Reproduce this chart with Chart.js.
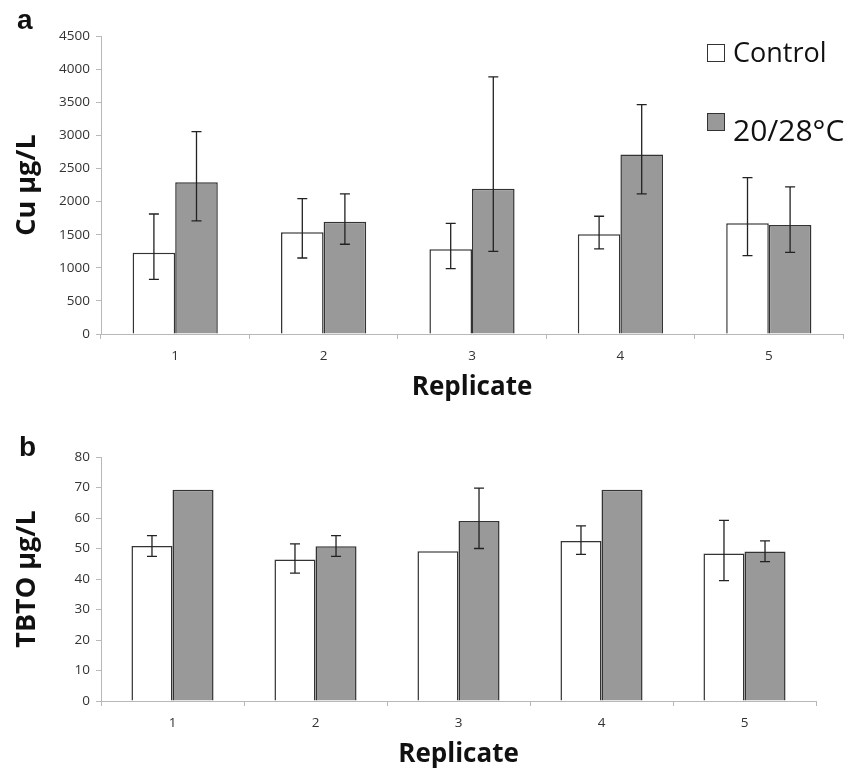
<!DOCTYPE html>
<html>
<head>
<meta charset="utf-8">
<script src="https://cdn.jsdelivr.net/npm/chart.js@4"></script>
<style>
  body { margin: 0; background: #fff; width: 858px; height: 771px; position: relative; overflow: hidden; }
  .pane { position: absolute; left: 0; }
  .letter { position: absolute; font-family: "Liberation Sans", Arial, sans-serif; font-weight: bold; font-size: 28px; line-height: 28px; color: #111; }
  .key { position: absolute; left: 707px; width: 16px; height: 16px; border: 1.5px solid #333; }
  .key-text { position: absolute; left: 733px; font-family: "Open Sans", sans-serif; color: #111; white-space: nowrap; }
</style>
</head>
<body>
<div class="pane" style="top:0"><canvas id="cu-chart" width="858" height="410"></canvas></div>
<div class="pane" style="top:410px"><canvas id="tbto-chart" width="858" height="361"></canvas></div>

<div class="letter" style="left:17px;top:6px">a</div>
<div class="letter" style="left:19px;top:433px">b</div>

<div class="key" style="top:44px;background:#fff"></div>
<div class="key-text" style="top:38px;font-size:27px;line-height:27px">Control</div>
<div class="key" style="top:113px;background:#999"></div>
<div class="key-text" style="top:115px;font-size:30px;line-height:30px">20/28°C</div>

<script>
const replicates = ['1', '2', '3', '4', '5'];

// panel a: Cu (µg/L)
const cuControl     = [1228, 1536, 1279, 1506, 1672];
const cuControlLow  = [826, 1148, 986, 1284, 1183];
const cuControlHigh = [1812, 2044, 1672, 1778, 2361];
const cuHeat        = [2291, 1696, 2195, 2709, 1647];
const cuHeatLow     = [1707, 1355, 1249, 2115, 1234];
const cuHeatHigh    = [3056, 2115, 3882, 3464, 2221];

// panel b: TBTO (µg/L), null = no error bar drawn
const tbtoControl     = [50.8, 46.4, 49.1, 52.5, 48.4];
const tbtoControlLow  = [47.4, 41.9, null, 48.1, 39.5];
const tbtoControlHigh = [54.2, 51.5, null, 57.4, 59.2];
const tbtoHeat        = [69.3, 50.7, 59.0, 69.3, 49.0];
const tbtoHeatLow     = [null, 47.4, 50.0, null, 45.7];
const tbtoHeatHigh    = [null, 54.2, 69.8, null, 52.5];

const AXIS = '#b8b8b8';
const TICK_TXT = '#333';

const errorBars = {
  id: 'errorBars',
  afterDatasetsDraw(chart) {
    const { ctx } = chart;
    const y = chart.scales.y;
    chart.data.datasets.forEach((ds, i) => {
      const meta = chart.getDatasetMeta(i);
      meta.data.forEach((bar, j) => {
        const lo = ds.errLow[j], hi = ds.errHigh[j];
        if (lo == null || hi == null) return;
        const yLo = y.getPixelForValue(lo);
        const yHi = y.getPixelForValue(hi);
        const x = bar.x;
        ctx.save();
        ctx.strokeStyle = '#222';
        ctx.lineWidth = 1.3;
        ctx.beginPath();
        ctx.moveTo(x, yLo); ctx.lineTo(x, yHi);
        ctx.moveTo(x - 5, yLo); ctx.lineTo(x + 5, yLo);
        ctx.moveTo(x - 5, yHi); ctx.lineTo(x + 5, yHi);
        ctx.stroke();
        ctx.restore();
      });
    });
  }
};

function makeChart(id, opts) {
  return new Chart(document.getElementById(id), {
    type: 'bar',
    data: {
      labels: replicates,
      datasets: [
        {
          label: 'Control',
          data: opts.control,
          errLow: opts.controlLow,
          errHigh: opts.controlHigh,
          backgroundColor: '#ffffff',
          borderColor: '#333',
          borderWidth: 1.5
        },
        {
          label: '20/28°C',
          data: opts.heat,
          errLow: opts.heatLow,
          errHigh: opts.heatHigh,
          backgroundColor: '#999999',
          borderColor: '#333',
          borderWidth: 1.5
        }
      ]
    },
    options: {
      responsive: false,
      animation: false,
      categoryPercentage: 0.574,
      barPercentage: 1.0,
      layout: { padding: { left: 0, top: opts.padTop, right: opts.padRight, bottom: 0 } },
      plugins: { legend: { display: false }, tooltip: { enabled: false } },
      scales: {
        x: {
          afterFit: s => { s.height = opts.xHeight; },
          border: { color: AXIS, width: 1 },
          grid: { display: true, drawOnChartArea: false, offset: true, tickLength: 5, color: AXIS },
          ticks: { color: TICK_TXT, padding: 9, font: { family: 'Open Sans', size: 13.5 } },
          title: {
            display: true,
            text: 'Replicate',
            color: '#111',
            padding: { top: 0, bottom: opts.xTitlePad },
            font: { family: 'Open Sans', size: 26, weight: 'bold' }
          }
        },
        y: {
          min: 0,
          max: opts.max,
          afterFit: s => { s.width = 101; },
          border: { color: AXIS, width: 1 },
          grid: { display: true, drawOnChartArea: false, tickLength: 5, color: AXIS },
          ticks: {
            stepSize: opts.step,
            color: TICK_TXT,
            padding: 6,
            font: { family: 'Open Sans', size: 13.5 },
            callback: v => String(v)
          },
          title: {
            display: true,
            text: opts.yTitle,
            color: '#111',
            padding: { top: 11, bottom: 0 },
            font: { family: 'Open Sans', size: 27, weight: 'bold' }
          }
        }
      }
    },
    plugins: [errorBars]
  });
}

makeChart('cu-chart', {
  control: cuControl, controlLow: cuControlLow, controlHigh: cuControlHigh,
  heat: cuHeat, heatLow: cuHeatLow, heatHigh: cuHeatHigh,
  max: 4500, step: 500, yTitle: 'Cu µg/L',
  padTop: 36, padRight: 15, xHeight: 76, xTitlePad: 7
});

makeChart('tbto-chart', {
  control: tbtoControl, controlLow: tbtoControlLow, controlHigh: tbtoControlHigh,
  heat: tbtoHeat, heatLow: tbtoHeatLow, heatHigh: tbtoHeatHigh,
  max: 80, step: 10, yTitle: 'TBTO µg/L',
  padTop: 47, padRight: 42, xHeight: 70, xTitlePad: 1
});
</script>
</body>
</html>
